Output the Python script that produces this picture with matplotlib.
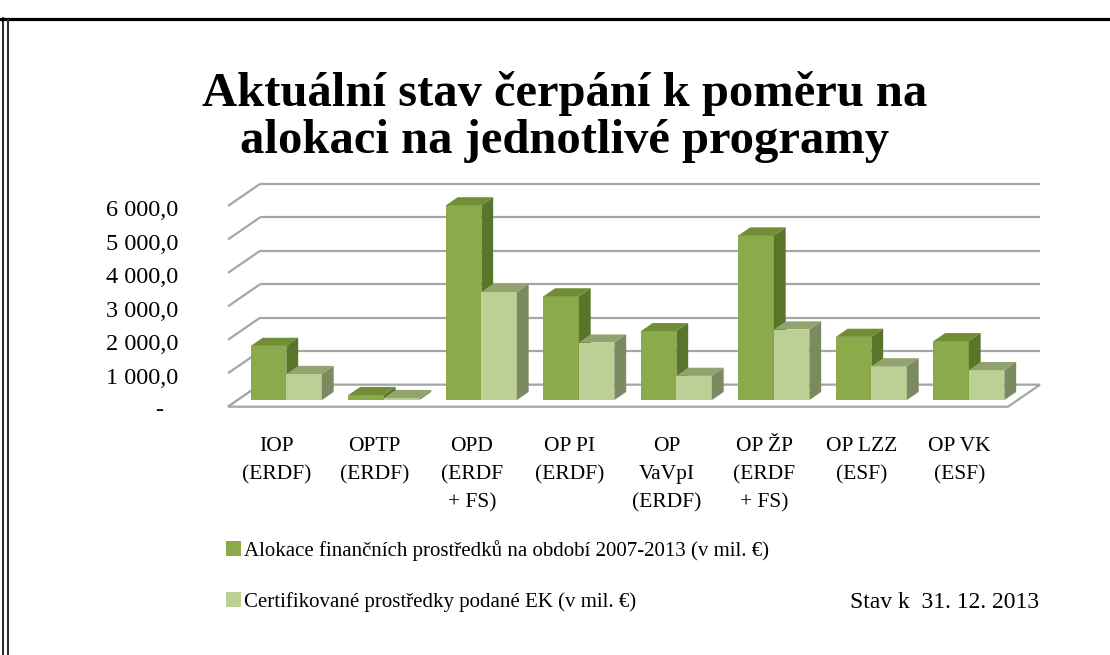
import matplotlib
matplotlib.use('Agg')
import matplotlib.pyplot as plt
from matplotlib.patches import Polygon, Patch
from matplotlib.lines import Line2D

plt.rcParams['font.family'] = ['Liberation Serif', 'DejaVu Serif']

# data (mil. EUR)
programs = ['IOP\n(ERDF)', 'OPTP\n(ERDF)', 'OPD\n(ERDF\n+ FS)', 'OP PI\n(ERDF)',
            'OP\nVaVpI\n(ERDF)', 'OP ŽP\n(ERDF\n+ FS)', 'OP LZZ\n(ESF)', 'OP VK\n(ESF)']
alokace = [1620, 150, 5820, 3100, 2060, 4920, 1890, 1760]
certifikovane = [780, 60, 3230, 1720, 725, 2110, 1010, 895]
yticks = [0, 1000, 2000, 3000, 4000, 5000, 6000]
ytick_labels = ['-', '1 000,0', '2 000,0', '3 000,0', '4 000,0', '5 000,0', '6 000,0']
legend_labels = ['Alokace finančních prostředků na období 2007-2013 (v mil. €)',
                 'Certifikované prostředky podané EK (v mil. €)']

W, H = 1110, 655
fig = plt.figure(figsize=(W / 100, H / 100), dpi=100, facecolor='w')

# axes = front plane of the floor
x0, y0, ax_w, ax_h = 228, 406.7, 780, 234.2
ax = fig.add_axes([x0 / W, 1 - y0 / H, ax_w / W, ax_h / H])
ax.set_xlim(-0.5, 7.5)
ax.set_ylim(0, 7000)
ax.axis('off')

# depth of the 3d box in data units
DX, DY = 0.328, 658
f_front, f_depth = 0.30, 0.37
bw = 0.364

grid_c = '#A6A6A6'
n = len(programs)
xl, xr = -0.5, n - 0.5

# walls / gridlines
for v in yticks:
    ax.plot([xl + DX, xr + DX], [v + DY, v + DY], c=grid_c, lw=1.6, zorder=1,
            clip_on=False, solid_capstyle='butt')
    ax.plot([xl, xl + DX], [v, v + DY], c=grid_c, lw=1.6, zorder=1,
            clip_on=False, solid_capstyle='butt')
floor = Polygon([(xl, 0), (xr, 0), (xr + DX, DY), (xl + DX, DY)], closed=True,
                facecolor='white', edgecolor=grid_c, lw=1.6, zorder=1.5, clip_on=False)
ax.add_patch(floor)

series = [(alokace, '#8BAA4B', '#6F8E36', '#58752A', legend_labels[0]),
          (certifikovane, '#BCD095', '#93A36F', '#7C8A62', legend_labels[1])]

bx0, by0 = f_front * DX, f_front * DY
ddx, ddy = f_depth * DX, f_depth * DY
z = 2
for i in range(n):
    for j, (vals, c_front, c_top, c_side, lab) in enumerate(series):
        left = i + bx0 - bw + j * bw
        v = vals[i]
        ax.bar(left, v, width=bw, bottom=by0, align='edge', color=c_front,
               lw=0, zorder=z, clip_on=False)
        top = by0 + v
        ax.add_patch(Polygon([(left, top), (left + bw, top),
                              (left + bw + ddx, top + ddy), (left + ddx, top + ddy)],
                             closed=True, facecolor=c_top, lw=0, zorder=z, clip_on=False))
        ax.add_patch(Polygon([(left + bw, by0), (left + bw + ddx, by0 + ddy),
                              (left + bw + ddx, top + ddy), (left + bw, top)],
                             closed=True, facecolor=c_side, lw=0, zorder=z, clip_on=False))
        z += 0.01

# y tick labels on the front edge of the side wall
ytr = ax.get_yaxis_transform()
for v, lab in zip(yticks, ytick_labels):
    if lab == '-':
        ax.text(-0.0885, v - 120, lab, transform=ytr, ha='center', va='center', fontsize=17.5)
    else:
        ax.text(-0.064, v - 150, lab, transform=ytr, ha='right', va='center', fontsize=17.5)

# category labels, one line at a time
xtr = ax.get_xaxis_transform()
line_base = [451, 479, 507]
for i, lab in enumerate(programs):
    for k, line in enumerate(lab.split('\n')):
        ax.text(i, (y0 - line_base[k]) / ax_h, line, transform=xtr, ha='center',
                va='baseline', fontsize=15.5)

# title
fig.text(565 / W, 1 - 106 / H, 'Aktuální stav čerpání k poměru na', ha='center',
         va='baseline', fontsize=35, fontweight='bold')
fig.text(565 / W, 1 - 153 / H, 'alokaci na jednotlivé programy', ha='center',
         va='baseline', fontsize=35, fontweight='bold')

# legend
handles = [Patch(facecolor=s[1], edgecolor='none') for s in series]
fig.legend(handles, legend_labels, loc='upper left', bbox_to_anchor=(226 / W, 1 - 540 / H),
           frameon=False, fontsize=15, handlelength=0.7, handleheight=0.7,
           handletextpad=0.15, labelspacing=1.5, borderpad=0, borderaxespad=0)

fig.text(850 / W, 1 - 608 / H, 'Stav k  31. 12. 2013', ha='left', va='baseline', fontsize=17)

# frame of the slide
fig.add_artist(Line2D([0, 1], [1 - 19 / H, 1 - 19 / H], c='black', lw=2.3))
fig.add_artist(Line2D([3 / W, 3 / W], [0, 1 - 17.5 / H], c='black', lw=1.2))
fig.add_artist(Line2D([7.5 / W, 7.5 / W], [0, 1 - 19.5 / H], c='#333333', lw=1.5))

fig.savefig('out.png', dpi=100, facecolor='w')
plt.close(fig)
